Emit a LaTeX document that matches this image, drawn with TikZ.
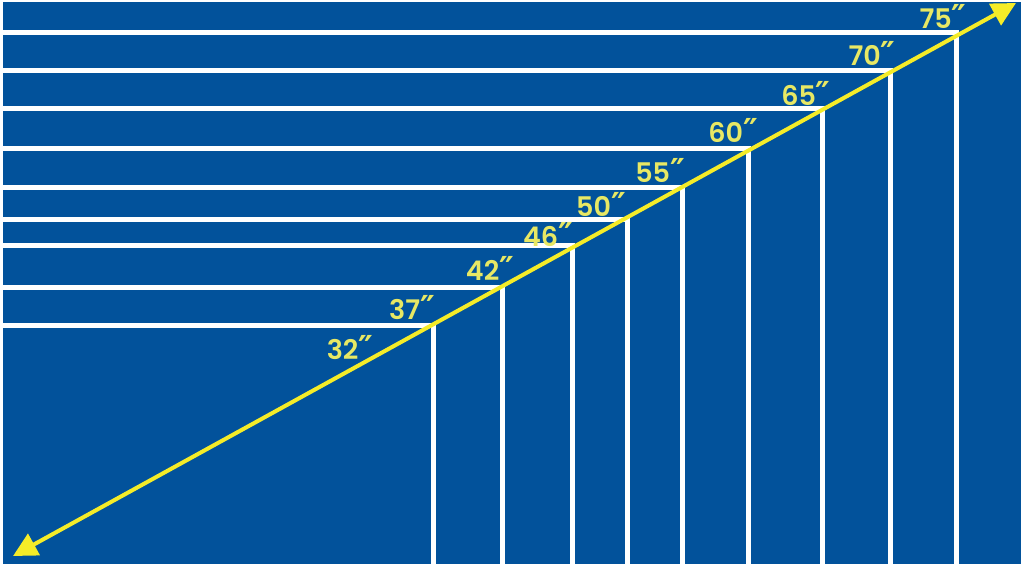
\documentclass[tikz,border=0pt]{standalone}
\usepackage{fontspec}
\setmainfont{Poppins}[UprightFont=* SemiBold]
\newfontfamily\dqfont{DejaVu Sans}
\usetikzlibrary{arrows.meta}
\definecolor{bgblue}{RGB}{2,82,155}
\definecolor{ayellow}{RGB}{245,236,40}
\definecolor{tyellow}{RGB}{232,232,100}
\newcommand{\inch}{{\dqfont\bfseries\fontsize{33}{33}\selectfont ″}}
\tikzset{
  frame/.style={draw=white, line width=5pt, line join=miter},
  size/.style={text=tyellow, font=\fontsize{27}{27}\selectfont, inner sep=0pt},
  diag/.style={draw=ayellow, line width=4pt, {Triangle[length=24pt,width=24pt]}-{Triangle[length=24pt,width=24pt]}}
}
\begin{document}
\begin{tikzpicture}[x=1pt,y=-1pt]
\fill[white] (0,0) rectangle (1024,567);
\useasboundingbox (0,0) rectangle (1024,567);
\fill[bgblue] (3,2) rectangle (1021,564);
\foreach \x/\y in {433/325,502/287,572/245,627/219,682/187,748/148,822/109,890/71,956/33}{
  \draw[frame] (0,\y) -| (\x,566);
}
\coordinate (lo) at (13,556);
\coordinate (hi) at (1016,3);
\draw[diag] (lo) -- (hi);
\node[size] (s32) at (350,348) {32\inch};
\node[size] (s37) at (412,308) {37\inch};
\node[size] (s42) at (490,268) {42\inch};
\node[size] (s46) at (548,234) {46\inch};
\node[size] (s50) at (601,204) {50\inch};
\node[size] (s55) at (660,170) {55\inch};
\node[size] (s60) at (733,130) {60\inch};
\node[size] (s65) at (806,93) {65\inch};
\node[size] (s70) at (872,53) {70\inch};
\node[size] (s75) at (943,16) {75\inch};
\end{tikzpicture}
\end{document}
